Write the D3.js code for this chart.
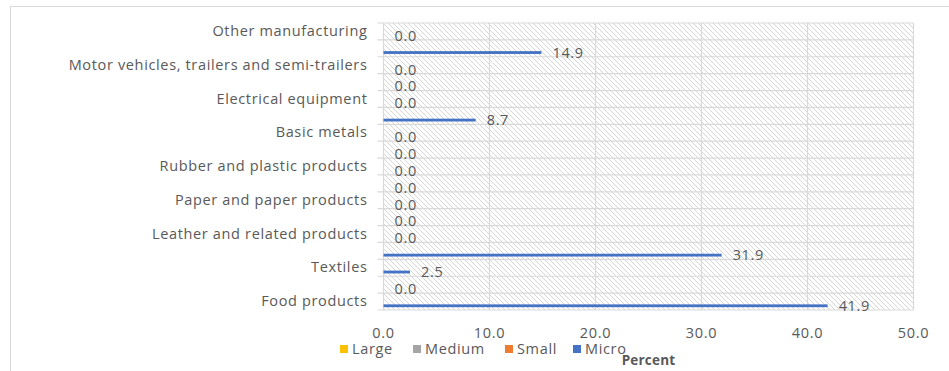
<!DOCTYPE html>
<html>
<head>
<meta charset="utf-8">
<script src="https://cdn.jsdelivr.net/npm/d3@7"></script>
<style>
  body { margin: 0; background: #fff; }
  text { font-family: "Open Sans", sans-serif; fill: #595959; letter-spacing: 0.65px; }
</style>
</head>
<body>
<svg id="chart" width="949" height="371"></svg>
<script>
// data, bottom category first (as in the sheet)
const categories = [
  "Food products", "Beverages", "Textiles", "Wearing apparel",
  "Leather and related products", "Wood and products of wood",
  "Paper and paper products", "Chemicals and chemical products",
  "Rubber and plastic products", "Other non-metallic mineral products",
  "Basic metals", "Fabricated metal products", "Electrical equipment",
  "Machinery and equipment", "Motor vehicles, trailers and semi-trailers",
  "Furniture", "Other manufacturing"
];
const seriesNames = ["Large", "Medium", "Small", "Micro"];
const seriesColors = ["#FFC000", "#A5A5A5", "#ED7D31", "#4472C4"];
const largeValues  = [0, 0, 0, 0, 0, 0, 0, 0, 0, 0, 0, 0, 0, 0, 0, 0, 0];
const mediumValues = [0, 0, 0, 0, 0, 0, 0, 0, 0, 0, 0, 0, 0, 0, 0, 0, 0];
const smallValues  = [0, 0, 0, 0, 0, 0, 0, 0, 0, 0, 0, 0, 0, 0, 0, 0, 0];
const microValues  = [41.9, 0.0, 2.5, 31.9, 0.0, 0.0, 0.0, 0.0, 0.0, 0.0, 0.0, 8.7, 0.0, 0.0, 0.0, 14.9, 0.0];
const xTicks = [0, 10, 20, 30, 40, 50];

const plot = {left: 383.5, right: 913.5, top: 23, bottom: 310};

const svg = d3.select("#chart");

// chart area border (runs off the right/bottom of the picture)
svg.append("rect")
  .attr("x", 10.5).attr("y", 6.5)
  .attr("width", 1000).attr("height", 500)
  .attr("fill", "#fff")
  .attr("stroke", "#d9d9d9");

// hatch fill for the plot area
const defs = svg.append("defs");
defs.append("pattern")
  .attr("id", "hatch")
  .attr("patternUnits", "userSpaceOnUse")
  .attr("width", 5).attr("height", 5)
  .append("path")
  .attr("d", "M0,0 L5,5 M-1,4 L1,6 M4,-1 L6,1")
  .attr("stroke", "#d6d6d6")
  .attr("stroke-width", 1);

const x = d3.scaleLinear().domain([0, 50]).range([plot.left, plot.right]);
const y = d3.scaleBand()
  .domain(categories.slice().reverse())
  .range([plot.top, plot.bottom]);
// series inside a category band
const ySub = d3.scaleBand()
  .domain(seriesNames)
  .range([0, y.bandwidth()])
  .paddingOuter(1);

svg.append("rect")
  .attr("x", plot.left).attr("y", plot.top)
  .attr("width", plot.right - plot.left)
  .attr("height", plot.bottom - plot.top)
  .attr("fill", "url(#hatch)");

// gridlines
const grid = svg.append("g").attr("stroke", "#d9d9d9").attr("stroke-width", 1.2);
grid.selectAll("line.v").data(xTicks).join("line")
  .attr("class", "v")
  .attr("x1", d => x(d)).attr("x2", d => x(d))
  .attr("y1", plot.top).attr("y2", plot.bottom);
// band boundaries, with the category tick marks sticking out left
const bounds = categories.map(c => y(c)).concat([plot.bottom]);
grid.selectAll("line.h").data(bounds).join("line")
  .attr("class", "h")
  .attr("x1", plot.left - 6).attr("x2", plot.right)
  .attr("y1", d => d).attr("y2", d => d);

// category axis, every other label like Excel
const yAxis = svg.append("g")
  .attr("transform", `translate(${plot.left},0)`)
  .call(d3.axisLeft(y)
    .tickSize(0)
    .tickPadding(16)
    .tickFormat(d => categories.indexOf(d) % 2 === 0 ? d : ""));
yAxis.select(".domain").remove();
yAxis.selectAll("text").attr("font-size", 14.5).attr("fill", "#595959");

// value axis labels
svg.append("g").selectAll("text").data(xTicks).join("text")
  .attr("x", d => x(d))
  .attr("y", 338)
  .attr("text-anchor", "middle")
  .attr("font-size", 14.5)
  .text(d => d.toFixed(1));

// bars
const allValues = [largeValues, mediumValues, smallValues, microValues];
const rows = [];
seriesNames.forEach((s, si) => {
  categories.forEach((c, ci) => rows.push({series: s, color: seriesColors[si], cat: c, value: allValues[si][ci]}));
});
svg.append("g").selectAll("rect").data(rows.filter(d => d.value > 0)).join("rect")
  .attr("x", x(0))
  .attr("y", d => y(d.cat) + ySub(d.series))
  .attr("width", d => x(d.value) - x(0))
  .attr("height", ySub.bandwidth())
  .attr("fill", d => d.color);

// data labels (Micro series)
svg.append("g").selectAll("text").data(rows.filter(d => d.series === "Micro")).join("text")
  .attr("x", d => x(d.value) + 11)
  .attr("y", d => y(d.cat) + ySub(d.series) + ySub.bandwidth() / 2)
  .attr("dy", "0.35em")
  .attr("font-size", 14.5)
  .text(d => d.value.toFixed(1));

// legend
const legendX = [340, 413, 505, 573];
const legend = svg.append("g").selectAll("g").data(seriesNames).join("g")
  .attr("transform", (d, i) => `translate(${legendX[i]},345)`);
legend.append("rect")
  .attr("width", 8).attr("height", 8)
  .attr("fill", (d, i) => seriesColors[i]);
legend.append("text")
  .attr("x", 12).attr("y", 4)
  .attr("dy", "0.35em")
  .attr("font-size", 14.5)
  .text(d => d);

// axis title
svg.append("text")
  .attr("x", (plot.left + plot.right) / 2)
  .attr("y", 365)
  .attr("text-anchor", "middle")
  .attr("font-size", 13.5)
  .attr("font-weight", "bold")
  .style("letter-spacing", "0.2px")
  .text("Percent");
</script>
</body>
</html>
